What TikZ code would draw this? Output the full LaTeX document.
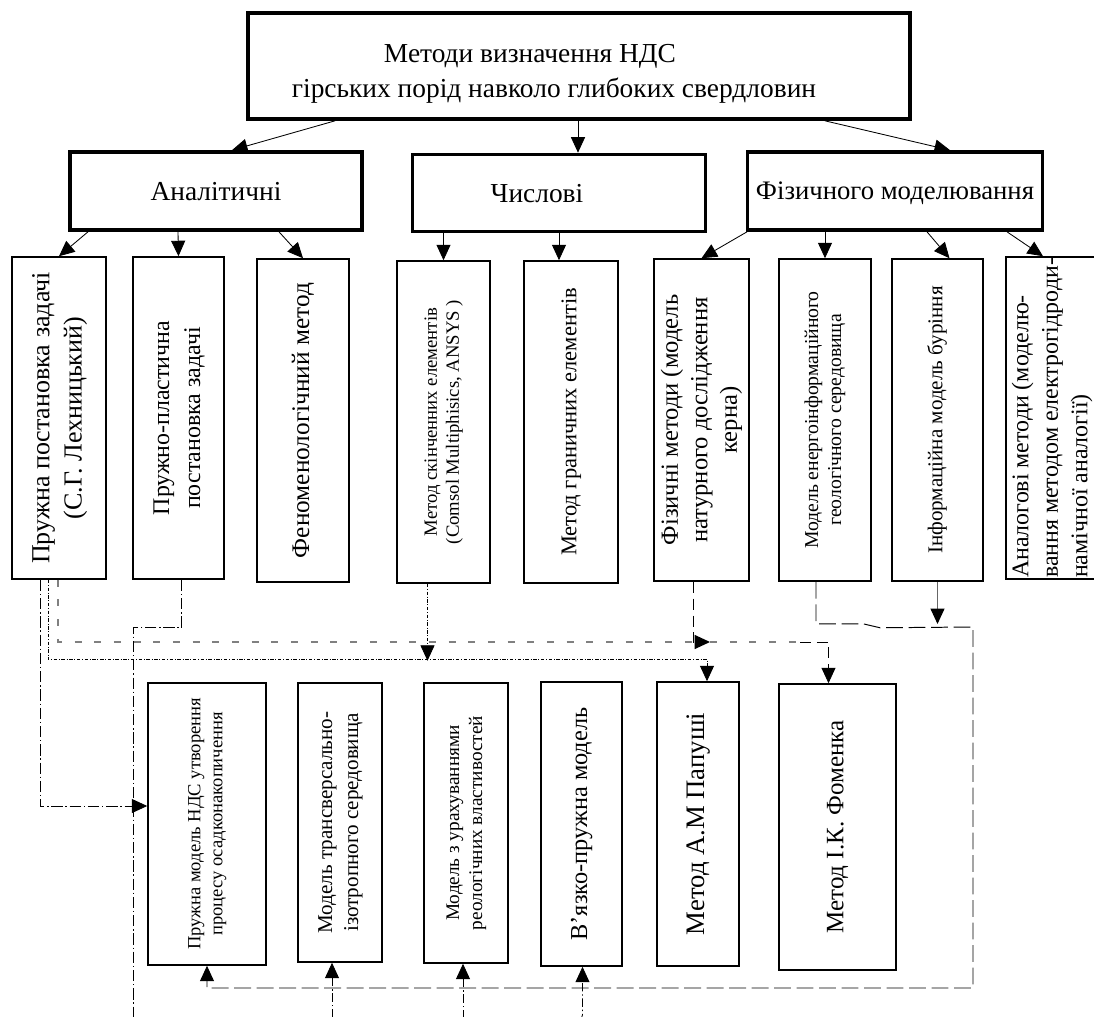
\documentclass[tikz,border=0pt]{standalone}
\usepackage{fontspec}
\setmainfont{Liberation Serif}
\usepackage{graphicx}
\usetikzlibrary{arrows.meta}
\usetikzlibrary{calc}
\tikzset{>={Triangle[length=11pt,width=10pt]}}
\tikzset{
  wh/.style 2 args={minimum width=#1*0.025cm, minimum height=#2*0.025cm},
  fsz/.style 2 args={font=\fontsize{#1}{#2}\selectfont},
  mainbox/.style={draw, line width=2.6pt, align=center, inner sep=0pt},
  grpbox/.style={mainbox, text depth=0pt},
  colbox/.style={draw, line width=1.1pt, inner sep=0pt},
  thinlink/.style={line width=0.6pt, ->},
  ldashdot/.style={line width=0.6pt, dash pattern=on 8pt off 2pt on 1pt off 2pt},
  dashdot/.style={line width=0.6pt, dash pattern=on 6pt off 2pt on 1pt off 2pt},
  dashdotdot/.style={line width=0.6pt, dash pattern=on 2.5pt off 1.2pt on 0.6pt off 1.2pt},
  greydash/.style={draw=black!50, line width=1pt, dash pattern=on 5pt off 9pt},
  shortdash/.style={line width=0.6pt, dash pattern=on 8pt off 4pt},
  longdash/.style={line width=0.7pt, dash pattern=on 12pt off 4pt},
  blacktip/.style={-{Triangle[length=11pt,width=10pt,color=black]}}
}
\newcommand{\vlab}[1]{\rotatebox{90}{\begin{tabular}{@{}c@{}}#1\end{tabular}}}
\newcommand{\vlabl}[1]{\rotatebox{90}{\begin{tabular}{@{}l@{}}#1\end{tabular}}}

\begin{document}
\begin{tikzpicture}[x=0.025cm, y=-0.025cm]
  \clip (0,0) rectangle (1094,1017);
  % top levels
  \node[mainbox, wh={662}{106}, fsz={19.5}{25.5}] (title) at (579,66)
    {\rule{0pt}{24pt}Методи визначення НДС\hspace*{2.45cm}\\гірських порід навколо глибоких свердловин\hspace*{1.25cm}};
  \node[grpbox, wh={292}{78}, fsz={19.5}{22}] (anal) at (216,191) {Аналітичні};
  \node[grpbox, wh={293}{77}, fsz={19.5}{22}] (num) at (559,193) {Числові\hspace*{1.1cm}};
  \node[grpbox, wh={295}{78}, fsz={19}{22}] (phys) at (895,191) {Фізичного моделювання};
  % methods
  \node[colbox, wh={94}{322}, fsz={18.5}{23}] (b1) at (59,418) {\vlab{Пружна постановка задачі\\(С.Г. Лехницький)}};
  \node[colbox, wh={91}{322}, fsz={17}{22}] (b2) at (178.5,418) {\vlab{Пружно-пластична\\постановка задачі}};
  \node[colbox, wh={92}{323}, fsz={18}{22}] (b3) at (303,420.5) {\vlab{Феноменологічний метод}};
  \node[colbox, wh={93}{322}, fsz={13.3}{15.5}] (b4) at (443.5,422) {\vlab{Метод скінченних елементів\\(Comsol Multiphisics, ANSYS )}};
  \node[colbox, wh={94}{322}, fsz={16}{19}] (b5) at (571,422) {\vlab{Метод граничних елементів}};
  \node[colbox, wh={95}{322}, fsz={17.5}{21}] (b6) at (701.5,420) {\vlab{Фізичні методи (модель\\натурного дослідження\\керна)}};
  \node[colbox, wh={92}{322}, fsz={14}{16.5}] (b7) at (825,420) {\vlab{Модель енергоінформаційного\\геологічного середовища}};
  \node[colbox, wh={91}{322}, fsz={15}{17}] (b8) at (937.5,420) {\vlab{Інформаційна модель буріння}};
  \node[colbox, wh={92}{322}, fsz={17}{21}] (b9) at (1052,418) {\vlabl{Аналогові методи (моделю-\\вання методом електрогідроди-\\намічної аналогії)}};
  % models
  \node[colbox, wh={118}{282}, fsz={13.2}{15.5}] (A) at (207,824) {\vlab{Пружна модель НДС утворення\\процесу осадконакопичення}};
  \node[colbox, wh={84}{279}, fsz={15}{18.5}] (B) at (340,822.5) {\vlab{Модель трансверсально-\\ізотропного середовища}};
  \node[colbox, wh={84}{280}, fsz={13.7}{16.5}] (C) at (466,823) {\vlab{Модель з урахуваннями\\реологічних властивостей}};
  \node[colbox, wh={81}{284}, fsz={17.3}{20}] (D) at (581.5,824) {\vlab{В’язко-пружна модель}};
  \node[colbox, wh={82}{284}, fsz={19}{22}] (E) at (698,824) {\vlab{Метод А.М Папуші}};
  \node[colbox, wh={117}{286}, fsz={17.8}{21}] (F) at (837.5,827) {\vlab{Метод І.К. Фоменка}};
  % tree links
  \draw[thinlink] ($(title.south)+(-244,0)$) -- ($(anal.north)+(16,0)$);
  \draw[thinlink] ($(title.south)+(-1,0)$) -- ($(num.north)+(19,0)$);
  \draw[thinlink] ($(title.south)+(246,0)$) -- ($(phys.north)+(55,0)$);
  \draw[thinlink] ($(anal.south)+(-128,0)$) -- (b1.north);
  \draw[thinlink] ($(anal.south)+(-38,0)$) -- (b2.north);
  \draw[thinlink] ($(anal.south)+(63,0)$) -- (b3.north);
  \draw[thinlink] (b4.north |- num.south) -- (b4.north);
  \draw[thinlink] (num.south) -- ($(b5.north)+(-12,0)$);
  \draw[thinlink] ($(phys.south)+(-148,0)$) -- (b6.north);
  \draw[thinlink] (b7.north |- phys.south) -- (b7.north);
  \draw[thinlink] ($(phys.south)+(32,0)$) -- ($(b8.north)+(12,0)$);
  \draw[thinlink] ($(phys.south)+(112,0)$) -- ($(b9.north)+(-9,0)$);
  % links to models
  \coordinate (jct) at (710,642);
  \coordinate (kink) at (800,642);
  \coordinate (offleft) at (133,1030);
  \coordinate (loopNE) at (973,627);
  \coordinate (loopSE) at (973,988);
  \draw[ldashdot, ->] ($(b1.south)+(-19,0)$) |- ($(A.west)+(0,-18)$);
  \draw[dashdotdot, ->] ($(b1.south)+(-11,0)$) |- ($(E.north)+(9,-22)$) -- ($(E.north)+(9,0)$);
  \draw[greydash, blacktip] ($(b1.south)+(-1,0)$) |- (jct);
  \draw[ldashdot] ($(b2.south)+(3,0)$) -- ++(0,48) -| (offleft);
  \draw[dashdotdot, ->] ($(b4.south)+(-16,0)$) -- ($(b4.south)+(-16,77)$);
  \draw[shortdash] ($(b6.south)+(-8,0)$) -- ($(b6.south)+(-8,61)$);
  \draw[greydash] (jct) -- (kink);
  \draw[shortdash, ->] (kink) -| ($(F.north)+(-9,0)$);
  \draw[longdash, ->] ($(b7.south)+(-9,0)$) -- ++(0,42) -- ++(47,0) -- ++(17,4)
    -- (loopNE) -- (loopSE) -| (A.south);
  \draw[draw=black!60, line width=0.8pt, blacktip] (b8.south) -- ($(b8.south |- loopNE)+(0,-3)$);
  \draw[dashdot, ->] ($(B.south)+(-8,70)$) -- ($(B.south)+(-8,0)$);
  \draw[dashdot, ->] ($(C.south)+(-3,70)$) -- ($(C.south)+(-3,0)$);
  \draw[dashdot, ->] ($(D.south)+(-6,70)$) -- ($(D.south)+(1,48)$) -- ($(D.south)+(1,0)$);
\end{tikzpicture}
\end{document}
